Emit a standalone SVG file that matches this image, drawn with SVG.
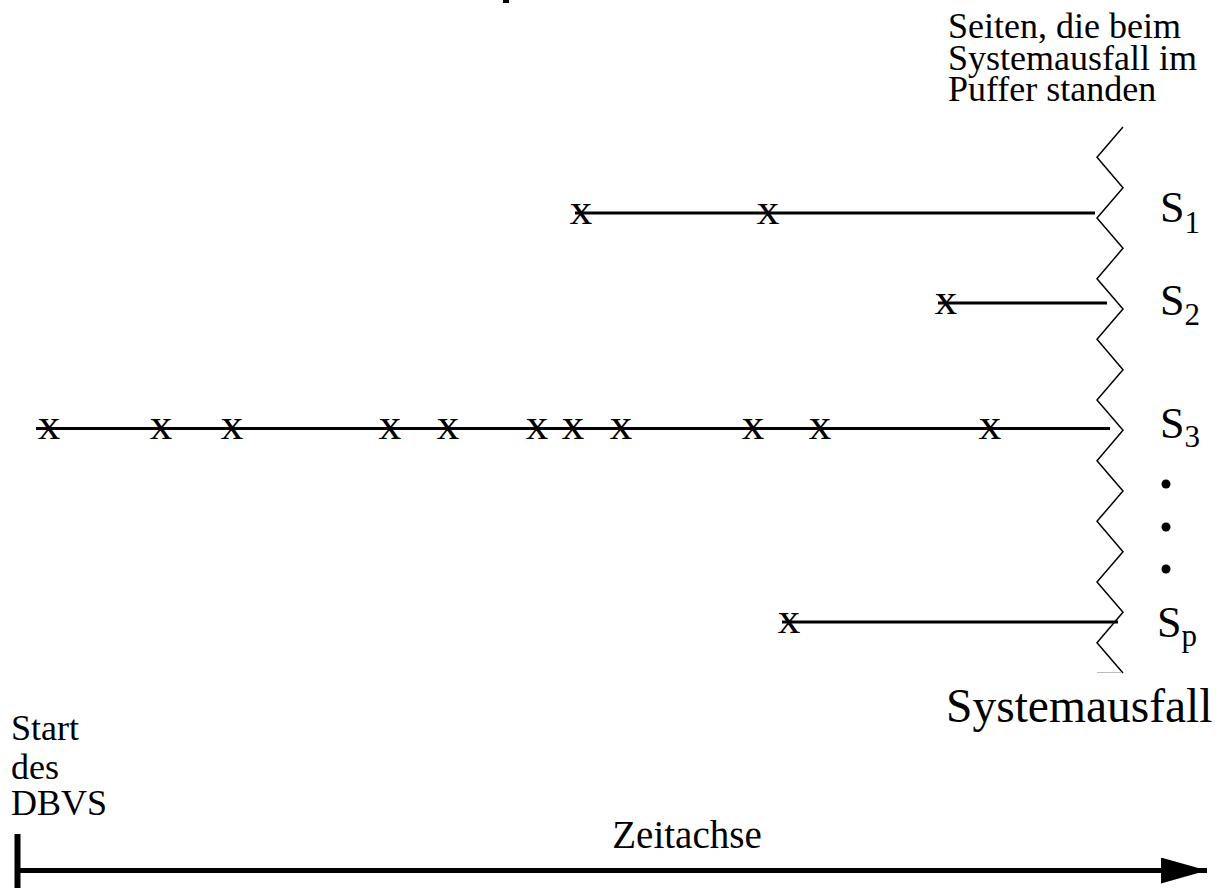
<svg xmlns="http://www.w3.org/2000/svg" width="1218" height="893" viewBox="0 0 1218 893">
  <style>
    .t { font-family: "Liberation Serif", "Times New Roman", serif; fill: #000; }
    .mark { font-family: "Liberation Serif", "Times New Roman", serif; font-size: 45px; text-anchor: middle; fill: #000; }
    .life { stroke: #000; stroke-width: 3; fill: none; }
    .zig { stroke: #000; stroke-width: 1.5; fill: none; stroke-linejoin: miter; }
  </style>
  <defs>
    <marker id="arrow" markerUnits="userSpaceOnUse" markerWidth="48" markerHeight="28" refX="46" refY="13" orient="auto">
      <path d="M0,0 L46,13 L0,26 Z" fill="#000"/>
    </marker>
  </defs>
  <rect width="1218" height="893" fill="#fff"/>

  <!-- fragment of heading cut at the top edge -->
  <rect x="503" y="0" width="6" height="3" fill="#000"/>

  <!-- crash boundary: zigzag line -->
  <g id="crash">
    <polyline class="zig" points="1123,127 1097,157.3 1123,187.7 1097,218 1123,248.3 1097,278.7 1123,309 1097,339.3 1123,369.7 1097,400 1123,430.3 1097,460.7 1123,491 1097,521.3 1123,551.7 1097,582 1123,612.3 1097,642.7 1123,673"/>
    <line x1="1097" y1="672.5" x2="1122" y2="672.5" stroke="#bbb" stroke-width="1"/>
    <text class="t" font-size="36"><tspan x="948" y="38">Seiten, die beim</tspan><tspan x="948" y="70">Systemausfall im</tspan><tspan x="948" y="101">Puffer standen</tspan></text>
    <text class="t" x="946" y="722" font-size="47.5">Systemausfall</text>
  </g>

  <!-- page S1 -->
  <g id="s1">
    <line class="life" x1="575" y1="213" x2="1095" y2="213"/>
    <text class="mark" x="581" y="224">x</text>
    <text class="mark" x="768" y="224">x</text>
    <text class="t" x="1160" y="222" font-size="44">S<tspan font-size="31" dy="11">1</tspan></text>
  </g>

  <!-- page S2 -->
  <g id="s2">
    <line class="life" x1="938" y1="303" x2="1107" y2="303"/>
    <text class="mark" x="946" y="314">x</text>
    <text class="t" x="1160" y="315" font-size="44">S<tspan font-size="31" dy="10">2</tspan></text>
  </g>

  <!-- page S3 -->
  <g id="s3">
    <line class="life" x1="36" y1="428.5" x2="1110" y2="428.5" stroke-width="3.5"/>
    <text class="mark" x="49" y="439">x</text>
    <text class="mark" x="161" y="439">x</text>
    <text class="mark" x="232" y="439">x</text>
    <text class="mark" x="390" y="439">x</text>
    <text class="mark" x="448" y="439">x</text>
    <text class="mark" x="537" y="439">x</text>
    <text class="mark" x="573" y="439">x</text>
    <text class="mark" x="621" y="439">x</text>
    <text class="mark" x="753" y="439">x</text>
    <text class="mark" x="820" y="439">x</text>
    <text class="mark" x="990" y="439">x</text>
    <text class="t" x="1160" y="438" font-size="44">S<tspan font-size="31" dy="9">3</tspan></text>
  </g>

  <!-- ellipsis between S3 and Sp -->
  <g id="ellipsis" fill="#000">
    <circle cx="1166" cy="484" r="4.5"/>
    <circle cx="1166" cy="527" r="4.5"/>
    <circle cx="1166" cy="569" r="4.5"/>
  </g>

  <!-- page Sp -->
  <g id="sp">
    <line class="life" x1="782" y1="622" x2="1118" y2="622" stroke-width="3.5"/>
    <text class="mark" x="789" y="633">x</text>
    <text class="t" x="1157" y="637" font-size="44">S<tspan font-size="31" dy="9">p</tspan></text>
  </g>

  <!-- start label -->
  <g id="start">
    <text class="t" font-size="36"><tspan x="11" y="740">Start</tspan><tspan x="11" y="779">des</tspan><tspan x="11" y="815">DBVS</tspan></text>
  </g>

  <!-- time axis -->
  <g id="axis">
    <line x1="17.5" y1="834" x2="17.5" y2="888" stroke="#000" stroke-width="6"/>
    <line x1="17" y1="870.5" x2="1207" y2="870.5" stroke="#000" stroke-width="5" marker-end="url(#arrow)"/>
    <text class="t" x="687" y="848" font-size="39" text-anchor="middle">Zeitachse</text>
  </g>
</svg>
